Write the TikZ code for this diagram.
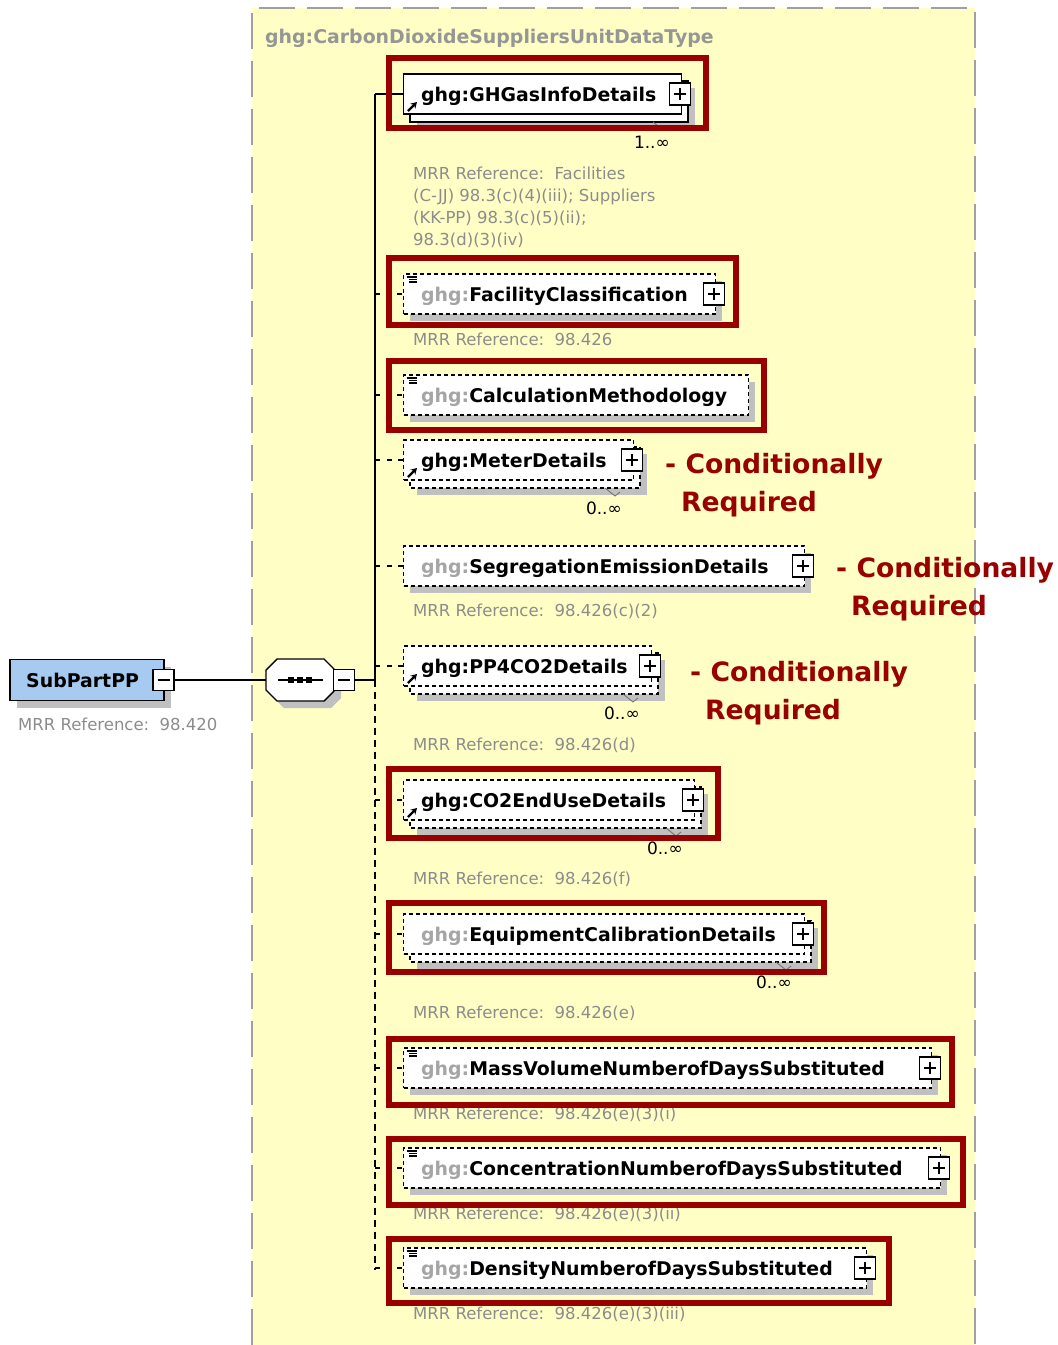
\documentclass[tikz,border=0pt]{standalone}
\usepackage{fontspec}
\setmainfont{DejaVu Sans}
\usetikzlibrary{arrows.meta}
\definecolor{bgyellow}{RGB}{255,255,197}
\definecolor{framered}{RGB}{153,0,0}
\definecolor{condred}{RGB}{153,0,0}
\definecolor{shadowgray}{RGB}{192,192,192}
\definecolor{mrrgray}{RGB}{140,140,140}
\definecolor{titlegray}{RGB}{150,150,150}
\definecolor{prefixgray}{RGB}{165,165,165}
\definecolor{subblue}{RGB}{166,202,240}
\definecolor{bordergray}{RGB}{160,160,160}
\definecolor{notchgray}{RGB}{110,110,110}

\newcommand\pfx{\textcolor{prefixgray}{ghg:}}

% #1 name, #2 y centre, #3 right x, #4 border style, #5 stacked, #6 plus, #7 icon (0 none,1 ref,2 attr), #8 label
\newcommand\xsdelem[8]{%
  \ifnum#5=1
    \fill[shadowgray] (417,#2-6) rectangle (#3+14,#2+35);
    \draw[#4, fill=white] (410,#2-13) rectangle (#3+7,#2+28);
    \draw[notchgray, line width=0.8pt] (#3-28,#2+28) -- (#3-18,#2+36) -- (#3-13,#2+32);
  \else
    \fill[shadowgray] (410,#2-13) rectangle (#3+7,#2+27);
  \fi
  \node[#4, fill=white, minimum width={#3-403}, minimum height=40, inner sep=0pt, anchor=west] (#1) at (403,#2) {};
  \coordinate (t-#1) at (375,#2);
  \ifnum#6=1
    \node[plusbox] (#1-plus) at (#3-1,#2) {};
    \draw[line width=1.3pt] ([xshift=-6pt]#1-plus.center) -- ([xshift=6pt]#1-plus.center)
      ([yshift=-6pt]#1-plus.center) -- ([yshift=6pt]#1-plus.center);
  \fi
  \ifcase#7
  \or
    \draw[line width=2.2pt, -{Stealth[length=6pt,width=7pt]}] (408,#2+17) -- (417,#2+8);
  \or
    \draw[line width=1.1pt] (407,#2-17) -- (417,#2-17) (409,#2-14.5) -- (417,#2-14.5) (409,#2-12) -- (417,#2-12);
  \fi
  \node[elname, anchor=base west] (#1-t) at (421,#2+7) {#8};
}

\begin{document}
\begin{tikzpicture}[x=1pt,y=-1pt,
  elname/.style={font=\fontsize{18.9pt}{22pt}\selectfont\bfseries, inner sep=0pt, text=black},
  mrr/.style={font=\fontsize{16.5pt}{22pt}\selectfont, inner sep=0pt, text=mrrgray, anchor=base west},
  mult/.style={font=\fontsize{17pt}{20pt}\selectfont, inner sep=0pt, text=black, anchor=base east},
  cond/.style={font=\fontsize{26.6pt}{30pt}\selectfont\bfseries, inner sep=0pt, text=condred, anchor=base west},
  solidel/.style={draw=black, line width=1.4pt},
  dashedel/.style={draw=black, line width=1.4pt, dash pattern=on 4pt off 3pt},
  plusbox/.style={draw=black, fill=white, line width=1.3pt, minimum width=21, minimum height=22, inner sep=0pt},
  minusbox/.style={draw=black, fill=white, line width=1.3pt, minimum width=21, minimum height=21, inner sep=0pt},
  redframe/.style={draw=framered, line width=6pt},
  conn/.style={line width=1.4pt},
  stubtwo/.style={line width=1.4pt, dash pattern=on 5pt off 17pt},
  stubthree/.style={line width=1.4pt, dash pattern=on 5pt off 6.5pt},
  trunkdash/.style={line width=1.4pt, dash pattern=on 7pt off 5pt},
]
\useasboundingbox (0,0) rectangle (1058,1345);

% yellow complex type area
\fill[bgyellow] (252,8) rectangle (975,1345);
\draw[bordergray, line width=2pt, dash pattern=on 36pt off 12pt] (252,1345) -- (252,8) -- (975,8) -- (975,1345);
\node[elname, text=titlegray, anchor=base west] (title) at (265,43) {ghg:CarbonDioxideSuppliersUnitDataType};

% SubPartPP
\fill[shadowgray] (17,667) rectangle (171,708);
\node[draw=black, line width=1.4pt, fill=subblue, minimum width=154, minimum height=41, inner sep=0pt] (sub) at (87,680) {};
\node[elname, anchor=base west] (sub-t) at (26,687) {SubPartPP};
\node[minusbox] (subm) at (163.5,680) {};
\draw[line width=1.3pt] ([xshift=-6pt]subm.center) -- ([xshift=6pt]subm.center);
\node[mrr] (sub-mrr) at (18,730) {MRR Reference:\ \ 98.420};

% sequence compositor
\fill[shadowgray, shift={(7,7)}] (266,670) -- (277,659) -- (324,659) -- (334,669) -- (334,691) -- (324,701) -- (277,701) -- (266,690) -- cycle;
\node[minimum width=68, minimum height=42, inner sep=0pt] (seq) at (300,680) {};
\draw[line width=1.4pt, fill=white] (266,670) -- (277,659) -- (324,659) -- (334,669) -- (334,691) -- (324,701) -- (277,701) -- (266,690) -- cycle;
\draw[line width=1.3pt] (278,680) -- (323,680);
\foreach \dx in {291,300,309} \fill (\dx-2.7,677.3) rectangle (\dx+2.7,682.7);
\node[minusbox] (seqm) at (344,680) {};
\draw[line width=1.3pt] ([xshift=-6pt]seqm.center) -- ([xshift=6pt]seqm.center);

% elements
\xsdelem{ghgas}{94}{681}{solidel}{1}{1}{1}{ghg:GHGasInfoDetails}
\xsdelem{facility}{294}{715}{dashedel}{0}{1}{2}{\pfx FacilityClassification}
\xsdelem{calc}{395}{748}{dashedel}{0}{0}{2}{\pfx CalculationMethodology}
\xsdelem{meter}{460}{633}{dashedel}{1}{1}{1}{ghg:MeterDetails}
\xsdelem{seg}{566}{804}{dashedel}{0}{1}{0}{\pfx SegregationEmissionDetails}
\xsdelem{pp4}{666}{651}{dashedel}{1}{1}{1}{ghg:PP4CO2Details}
\xsdelem{co2}{800}{694}{dashedel}{1}{1}{1}{ghg:CO2EndUseDetails}
\xsdelem{equip}{934}{804}{dashedel}{1}{1}{0}{\pfx EquipmentCalibrationDetails}
\xsdelem{mass}{1068}{931}{dashedel}{0}{1}{2}{\pfx MassVolumeNumberofDaysSubstituted}
\xsdelem{conc}{1168}{940}{dashedel}{0}{1}{2}{\pfx ConcentrationNumberofDaysSubstituted}
\xsdelem{dens}{1268}{866}{dashedel}{0}{1}{2}{\pfx DensityNumberofDaysSubstituted}

% multiplicities
\node[mult] (ghgas-m) at (670,148) {1..∞};
\node[mult] (meter-m) at (622,514) {0..∞};
\node[mult] (pp4-m) at (640,719) {0..∞};
\node[mult] (co2-m) at (683,854) {0..∞};
\node[mult] (equip-m) at (792,988) {0..∞};

% MRR references
\node[mrr] (ghgas-r1) at (413,179) {MRR Reference:\ \ Facilities};
\node[mrr] (ghgas-r2) at (413,201) {(C-JJ) 98.3(c)(4)(iii); Suppliers};
\node[mrr] (ghgas-r3) at (413,223) {(KK-PP) 98.3(c)(5)(ii);};
\node[mrr] (ghgas-r4) at (413,245) {98.3(d)(3)(iv)};
\node[mrr] (facility-r) at (413,345) {MRR Reference:\ \ 98.426};
\node[mrr] (seg-r) at (413,616) {MRR Reference:\ \ 98.426(c)(2)};
\node[mrr] (pp4-r) at (413,750) {MRR Reference:\ \ 98.426(d)};
\node[mrr] (co2-r) at (413,884) {MRR Reference:\ \ 98.426(f)};
\node[mrr] (equip-r) at (413,1018) {MRR Reference:\ \ 98.426(e)};
\node[mrr] (mass-r) at (413,1119) {MRR Reference:\ \ 98.426(e)(3)(i)};
\node[mrr] (conc-r) at (413,1219) {MRR Reference:\ \ 98.426(e)(3)(ii)};
\node[mrr] (dens-r) at (413,1319) {MRR Reference:\ \ 98.426(e)(3)(iii)};

% conditionally required notes
\node[cond] (meter-c1) at (665,473) {- Conditionally};
\node[cond] (meter-c2) at (681,511) {Required};
\node[cond] (seg-c1) at (836,577) {- Conditionally};
\node[cond] (seg-c2) at (851,615) {Required};
\node[cond] (pp4-c1) at (690,681) {- Conditionally};
\node[cond] (pp4-c2) at (705,719) {Required};

% connectors
\coordinate (tmid) at (375,680);
\coordinate (tbot) at (375,1270);
\draw[conn] (subm.east) -- (seq.west);
\draw[conn] (seqm.east) -- (tmid);
\draw[conn] (t-ghgas) -- (tmid);
\draw[trunkdash] (tmid) -- (tbot);
\draw[conn] (t-ghgas) -- (ghgas.west);
\foreach \e in {facility,calc,co2,equip,mass,conc,dens} \draw[stubtwo] (t-\e) -- (\e.west);
\foreach \e in {meter,seg,pp4} \draw[stubthree] (t-\e) -- (\e.west);

% highlight frames
\draw[redframe] (389,58) rectangle (706,128);
\draw[redframe] (389,258) rectangle (736,325);
\draw[redframe] (389,361) rectangle (764,430);
\draw[redframe] (389,769) rectangle (718,838);
\draw[redframe] (389,903) rectangle (824,972);
\draw[redframe] (389,1039) rectangle (952,1105);
\draw[redframe] (389,1139) rectangle (963,1205);
\draw[redframe] (389,1239) rectangle (889,1303);
\end{tikzpicture}
\end{document}
